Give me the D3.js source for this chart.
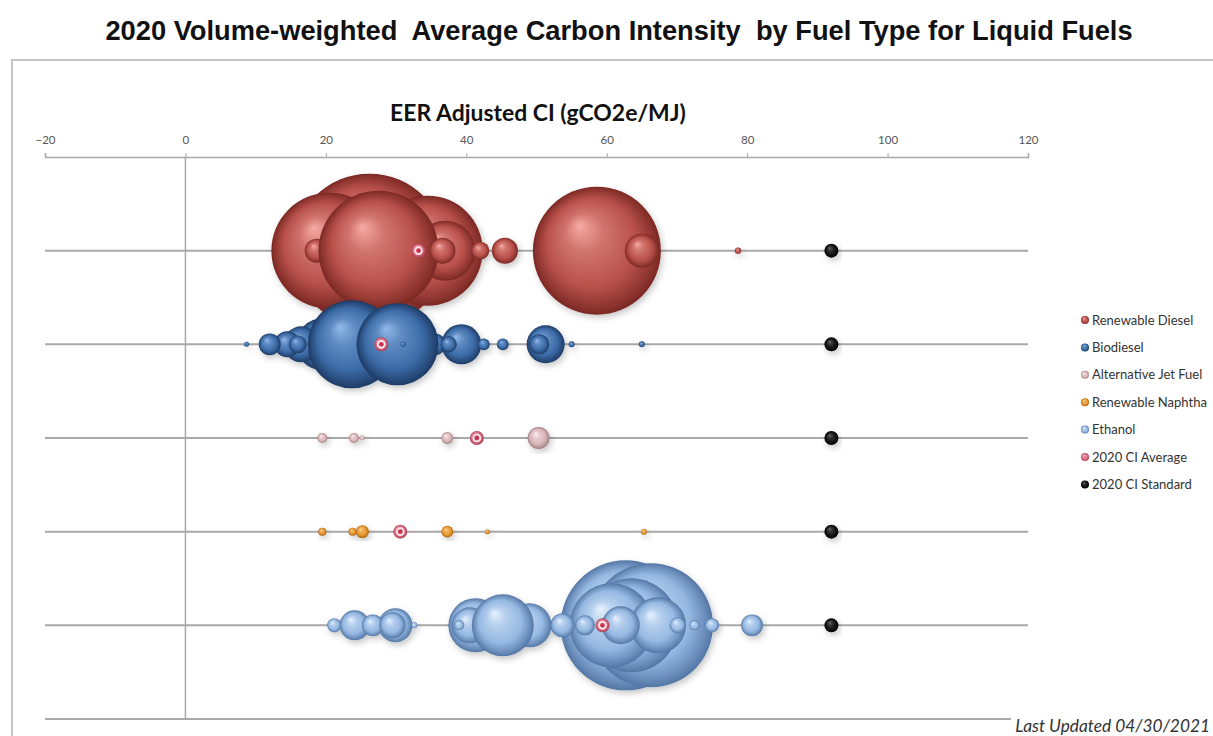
<!DOCTYPE html>
<html><head><meta charset="utf-8">
<script src="https://cdn.jsdelivr.net/npm/d3@7"></script>
<style>body{margin:0;background:#fff}svg{display:block}</style>
</head><body>
<svg id="c" width="1213" height="736"></svg>
<script>
// ---------- DATA ----------
const xTicks = [-20, 0, 20, 40, 60, 80, 100, 120];
const fuels = ["Renewable Diesel", "Biodiesel", "Alternative Jet Fuel", "Renewable Naphtha", "Ethanol"];
const legendLabels = ["Renewable Diesel", "Biodiesel", "Alternative Jet Fuel", "Renewable Naphtha", "Ethanol", "2020 CI Average", "2020 CI Standard"];

// CI (gCO2e/MJ) and volume (relative) for each fuel pathway, in drawing order
const rdCI  = [26.2, 58.6, 34.5, 20.5, 37.0, 18.7, 27.5, 36.6, 42.0, 45.5, 65.0, 78.7];
const rdVol = [1186, 819, 605, 673, 180, 29, 720, 34, 16, 34, 58, 2];

const bdCI  = [19.5, 16.5, 23.7, 14.5, 12.0, 16.0, 8.7, 34.5, 35.5, 30.2, 31.0, 39.3, 37.5, 42.5, 45.2, 51.3, 50.4, 55.0, 65.0];
const bdVol = [135, 65, 387, 34, 24, 16, 1.25, 39, 24, 336, 1.25, 80, 13, 7, 7, 72, 20, 1.8, 1.8];

const ajCI  = [19.5, 24.0, 25.2, 37.3, 50.3];
const ajVol = [5, 5, 1.25, 7, 24];

const rnCI  = [19.5, 23.8, 25.2, 37.3, 43.0, 65.3];
const rnVol = [3.2, 3.2, 8.5, 7, 1.25, 1.8];

const etCI  = [29.9, 21.2, 22.6, 24.1, 26.7, 29.5, 32.6, 41.3, 49.0, 40.5, 45.2, 39.0,
               62.7, 66.3, 63.5, 60.7, 67.3, 62.0, 53.7, 56.9, 70.1, 72.5, 75.0, 80.7];
const etVol = [58, 10, 3.2, 45, 24, 34, 1.8, 146, 97, 65, 192, 5,
               845, 769, 442, 353, 157, 72, 29, 20, 13, 5, 10, 24];

const avgCI = [33.2, 27.9, 41.5, 30.6, 59.4];
const stdCI = [92, 92, 92, 92, 92];
const rowPos = [5, 4, 3, 2, 1];

// ---------- STYLE ----------
const palettes = [
  {hi:"#f6aaa4", base:"#b8504a", dark:"#7a2824"},
  {hi:"#93b9e8", base:"#3c6ca8", dark:"#1d3a63"},
  {hi:"#fdf2f3", base:"#d9b5b8", dark:"#9e7e80"},
  {hi:"#fdd89c", base:"#e8962f", dark:"#a4600e"},
  {hi:"#e6f2fe", base:"#95b8e2", dark:"#5376a5"}
];
const seriesCI = [rdCI, bdCI, ajCI, rnCI, etCI];
const seriesVol = [rdVol, bdVol, ajVol, rnVol, etVol];

const svg = d3.select("#c");
const x = d3.scaleLinear().domain([-20, 120]).range([45, 1028]);
const y = d3.scaleLinear().domain([0, 6]).range([719, 157]);
const maxVol = d3.max(seriesVol.flat());
const r = d3.scaleSqrt().domain([0, maxVol]).range([0, 77]);

const defs = svg.append("defs");
function sphere(id, p){
  const g = defs.append("radialGradient").attr("id", id)
    .attr("cx", "50%").attr("cy", "50%").attr("r", "50%").attr("fx", "36%").attr("fy", "30%");
  g.append("stop").attr("offset", "0%").attr("stop-color", p.hi);
  g.append("stop").attr("offset", "30%").attr("stop-color", d3.interpolateRgb(p.hi, p.base)(0.6));
  g.append("stop").attr("offset", "70%").attr("stop-color", p.base);
  g.append("stop").attr("offset", "92%").attr("stop-color", d3.interpolateRgb(p.base, p.dark)(0.7));
  g.append("stop").attr("offset", "100%").attr("stop-color", p.dark);
}
palettes.forEach((p, i) => sphere("g" + i, p));
sphere("gAvg", {hi:"#f7b9c6", base:"#dc6f86", dark:"#a83a52"});
sphere("gStd", {hi:"#6a6a6a", base:"#111111", dark:"#000000"});

const flt = defs.append("filter").attr("id", "sh").attr("x", "-20%").attr("y", "-20%").attr("width", "140%").attr("height", "140%");
flt.append("feDropShadow").attr("dx", 2).attr("dy", 3).attr("stdDeviation", 3)
  .attr("flood-color", "#000").attr("flood-opacity", 0.22);

// frame
svg.append("rect").attr("x", 12).attr("y", 60).attr("width", 1240).attr("height", 720)
  .attr("fill", "none").attr("stroke", "#c4c4c4").attr("stroke-width", 2);

// title
const title = svg.append("text").attr("x", 619).attr("y", 40).attr("text-anchor", "middle")
  .attr("font-family", "Liberation Sans, Arial, sans-serif").attr("font-weight", "bold")
  .attr("font-size", 22).attr("fill", "#111").style("white-space", "pre")
  .text("2020 Volume-weighted  Average Carbon Intensity  by Fuel Type for Liquid Fuels");
function fit(sel, w){
  const len = sel.node().getComputedTextLength();
  sel.attr("font-size", parseFloat(sel.attr("font-size")) * w / len);
}
fit(title, 1028);

// axis title
const at = svg.append("text").attr("x", 538).attr("y", 121).attr("text-anchor", "middle")
  .attr("font-family", "Lato, 'Open Sans', sans-serif").attr("font-weight", "bold")
  .attr("font-size", 18).attr("fill", "#111").text("EER Adjusted CI (gCO2e/MJ)");
fit(at, 296);

// gridlines
svg.append("g").selectAll("line").data([0, 1, 2, 3, 4, 5]).join("line")
  .attr("x1", x(-20)).attr("x2", x(120)).attr("y1", d => y(d)).attr("y2", d => y(d))
  .attr("stroke", "#a9a9a9").attr("stroke-width", 2);
// vertical axis at 0
svg.append("line").attr("x1", x(0)).attr("x2", x(0)).attr("y1", y(0)).attr("y2", y(6))
  .attr("stroke", "#a9a9a9").attr("stroke-width", 1.5);

// top axis
const ax = svg.append("g").attr("transform", `translate(0,${y(6)})`)
  .call(d3.axisTop(x).tickValues(xTicks).tickSize(4).tickPadding(9).tickSizeOuter(4));
ax.select(".domain").attr("stroke", "#a9a9a9").attr("stroke-width", 1.5);
ax.selectAll(".tick line").attr("stroke", "#a9a9a9");
ax.selectAll(".tick text").attr("font-family", "Lato, 'Open Sans', sans-serif")
  .attr("font-size", 11.5).attr("fill", "#555");

// bubbles
fuels.forEach((f, i) => {
  const pts = seriesCI[i].map((c, j) => ({ci: c, vol: seriesVol[i][j]}));
  svg.append("g").attr("filter", "url(#sh)").selectAll("circle").data(pts).join("circle")
    .attr("cx", d => x(d.ci)).attr("cy", y(rowPos[i])).attr("r", d => r(d.vol))
    .attr("fill", `url(#g${i})`);
});

// averages
const avgG = svg.append("g").selectAll("g").data(avgCI).join("g")
  .attr("transform", (d, i) => `translate(${x(d)},${y(rowPos[i])})`);
avgG.append("circle").attr("r", 7).attr("fill", "url(#gAvg)");
avgG.append("circle").attr("r", 4.3).attr("fill", "#fbe6ea");
avgG.append("circle").attr("r", 2.4).attr("fill", "#c8334f");

// standards
svg.append("g").attr("filter", "url(#sh)").selectAll("circle").data(stdCI).join("circle")
  .attr("cx", d => x(d)).attr("cy", (d, i) => y(rowPos[i])).attr("r", 7)
  .attr("fill", "url(#gStd)");

// legend
const lg = svg.append("g").attr("transform", "translate(1085,320)");
const li = lg.selectAll("g").data(legendLabels).join("g")
  .attr("transform", (d, i) => `translate(0,${i * 27.4})`);
li.append("circle").attr("r", 4).attr("fill", (d, i) => i < 5 ? `url(#g${i})` : (i === 5 ? "url(#gAvg)" : "url(#gStd)"));
const lt = li.append("text").attr("x", 7).attr("dy", "0.35em")
  .attr("font-family", "Lato, 'Open Sans', sans-serif").attr("font-size", 12).attr("fill", "#333")
  .text(d => d);
const longest = lt.filter(d => d === "Renewable Naphtha");
const scl = 115 / longest.node().getComputedTextLength();
lt.attr("font-size", 12 * scl);

// footer
svg.append("rect").attr("x", 1011).attr("y", 709).attr("width", 202).attr("height", 27).attr("fill", "#fff");
const ft = svg.append("text").attr("x", 1210).attr("y", 732).attr("text-anchor", "end")
  .attr("font-family", "Lato, 'Open Sans', sans-serif").attr("font-style", "italic")
  .attr("font-size", 16).attr("fill", "#333").text("Last Updated 04/30/2021");
fit(ft, 195);
</script>
</body></html>
